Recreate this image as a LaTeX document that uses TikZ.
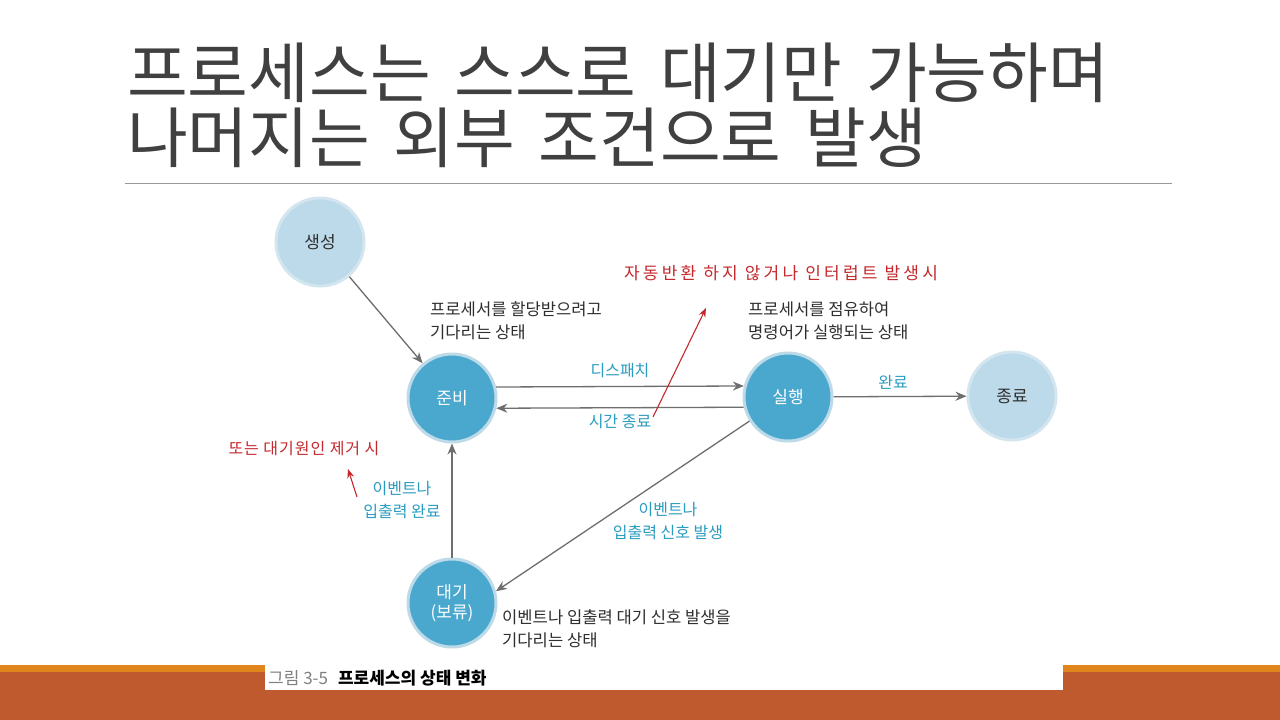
\documentclass[tikz,border=0pt]{standalone}
\usepackage{fontspec}
\setmainfont{Noto Sans CJK KR}
\newfontfamily\titlefont[WordSpace=1.6]{Noto Sans CJK KR}
\newfontfamily\handfont[LetterSpace=6]{Noto Sans CJK KR}
\newfontfamily\handwidefont[LetterSpace=19]{Noto Sans CJK KR}
\usetikzlibrary{arrows.meta,calc}
\definecolor{titlegray}{HTML}{404040}
\definecolor{dblue}{HTML}{4AA8CE}
\definecolor{dblueb}{HTML}{BDDAE8}
\definecolor{lblue}{HTML}{BCDAE9}
\definecolor{lblueb}{HTML}{D3E5EE}
\definecolor{lbltext}{HTML}{2A9CC0}
\definecolor{hred}{HTML}{C4282C}
\definecolor{arrgray}{HTML}{6E6E6E}
\definecolor{rust}{HTML}{BE5A2D}
\definecolor{orng}{HTML}{E1861C}
\definecolor{txtdark}{HTML}{2E2E2E}
\tikzset{
  darkstate/.style={circle, minimum size=88pt, inner sep=0pt, fill=dblue, draw=dblueb, line width=3pt, text=white, font=\fontsize{17}{20}\selectfont, align=center},
  lightstate/.style={circle, minimum size=88pt, inner sep=0pt, fill=lblue, draw=lblueb, line width=3pt, text=txtdark, font=\fontsize{17}{20}\selectfont},
  arr/.style={draw=arrgray, line width=1.3pt, -{Stealth[length=11pt,width=9pt]}},
  redarr/.style={draw=hred, line width=1.1pt, -{Stealth[length=9pt,width=7pt]}},
  lbl/.style={font=\fontsize{16}{23}\selectfont, text=lbltext, align=center, inner sep=0pt},
  desc/.style={font=\fontsize{16.6}{23}\selectfont, text=txtdark, align=left, inner sep=0pt, anchor=west},
  hand/.style={text=hred, inner sep=0pt},
  titletext/.style={anchor=base west, inner sep=0pt, text=titlegray, font=\titlefont\fontsize{66}{66}\selectfont},
}
\begin{document}
\begin{tikzpicture}[x=1pt,y=-1pt]
\useasboundingbox (0,0) rectangle (1280,720);
\fill[white] (0,0) rectangle (1280,720);
% title
\node[titletext] (t1) at (127,97) {프로세스는 스스로 대기만 가능하며};
\node[titletext] (t2) at (127,162) {나머지는 외부 조건으로 발생};
\draw[draw=gray!80, line width=1pt] (125,183) -- (1172,183);
% bottom bar
\fill[orng] (0,665) rectangle (1280,672);
\fill[rust] (0,672) rectangle (1280,720);
\fill[white] (265,655) rectangle (1063,690);
\node[anchor=base west, inner sep=0pt, font=\fontsize{17}{19}\selectfont] (cap) at (268,684) {\textcolor{gray}{그림 3-5}\hspace{10pt}\textbf{프로세스의 상태 변화}};
% states
\node[lightstate] (sang) at (320,242) {생성};
\node[darkstate] (jun) at (452,398) {준비};
\node[darkstate] (sil) at (788,397) {실행};
\node[lightstate] (jong) at (1012,396) {종료};
\node[darkstate] (dae) at (452,603) {대기\\(보류)};
% connectors
\draw[arr] (sang) -- (jun);
\draw[arr] (jun.14) -- (sil.166);
\draw[arr] (sil.193) -- (jun.-13);
\draw[arr] (sil) -- (jong);
\draw[arr] (sil.212) -- (dae.15);
\draw[arr] (dae) -- (jun);
% labels
\node[lbl] (l1) at (620,371) {디스패치};
\node[lbl] (l2) at (620,422) {시간 종료};
\node[lbl] (l3) at (893,382) {완료};
\node[lbl] (l4) at (668,521) {이벤트나\\입출력 신호 발생};
\node[lbl] (l5) at (402,500) {이벤트나\\입출력 완료};
\node[desc] (d1) at (430,321) {프로세서를 할당받으려고\\기다리는 상태};
\node[desc] (d2) at (748,321) {프로세서를 점유하여\\명령어가 실행되는 상태};
\node[desc] (d3) at (502,629) {이벤트나 입출력 대기 신호 발생을\\기다리는 상태};
% handwritten notes
\node[hand, font=\handwidefont\fontsize{17}{20}\selectfont] (h1) at (781,273) {자동반환 하지 않거나 인터럽트 발생시};
\node[hand, font=\handfont\fontsize{16}{20}\selectfont] (h2) at (304,449) {또는 대기원인 제거 시};
\coordinate (r1s) at (653,417);
\coordinate (r1e) at (706,308);
\coordinate (r2s) at (357,497);
\coordinate (r2e) at (348,469);
\draw[redarr] (r1s) -- (r1e);
\draw[redarr] (r2s) -- (r2e);
\end{tikzpicture}
\end{document}
